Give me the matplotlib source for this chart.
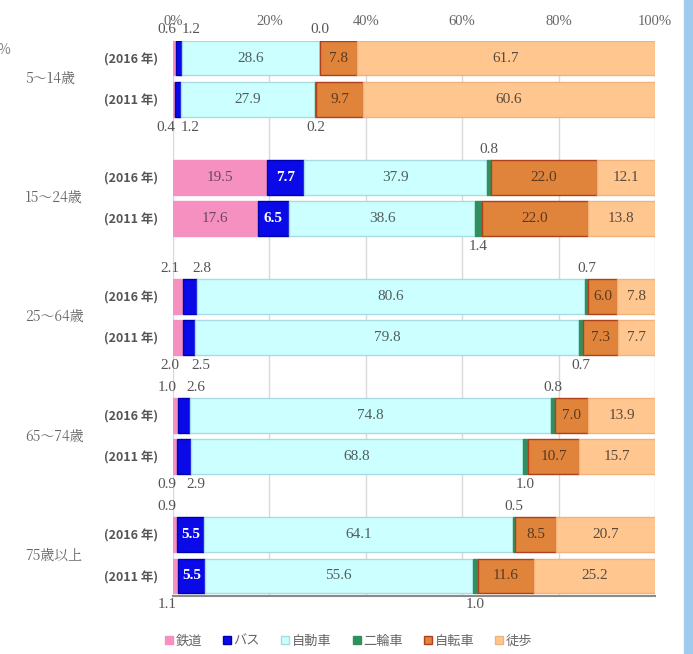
import numpy as np
import matplotlib
matplotlib.use('Agg')
import matplotlib.pyplot as plt
from matplotlib.lines import Line2D
from matplotlib.patches import Rectangle

plt.rcParams['font.family'] = ['Noto Sans CJK JP', 'DejaVu Sans']

# data (percent share of each mode)
groups = ['5〜14歳', '15〜24歳', '25〜64歳', '65〜74歳', '75歳以上']
years = ['(2016 年)', '(2011 年)']
modes = ['鉄道', 'バス', '自動車', '二輪車', '自転車', '徒歩']
# order per group: 2016, 2011
rail = [0.6, 0.4, 19.5, 17.6, 2.1, 2.0, 1.0, 0.9, 0.9, 1.1]
bus  = [1.2, 1.2, 7.7, 6.5, 2.8, 2.5, 2.6, 2.9, 5.5, 5.5]
car  = [28.6, 27.9, 37.9, 38.6, 80.6, 79.8, 74.8, 68.8, 64.1, 55.6]
moto = [0.0, 0.2, 0.8, 1.4, 0.7, 0.7, 0.8, 1.0, 0.5, 1.0]
bike = [7.8, 9.7, 22.0, 22.0, 6.0, 7.3, 7.0, 10.7, 8.5, 11.6]
walk = [61.7, 60.6, 12.1, 13.8, 7.8, 7.7, 13.9, 15.7, 20.7, 25.2]
xticks = [0, 20, 40, 60, 80, 100]

series = [rail, bus, car, moto, bike, walk]
colors = ['#F590C0', '#0A0AE8', '#CCFFFF', '#2F8F5F', '#E0843C', '#FFC690']
edges  = ['#F590C0', '#0000B0', '#A8DCE4', '#2F8F5F', '#B0401C', '#F2B27C']
txtcol = ['#6a4a5a', 'white', '#4f5f5f', '#444444', '#5a3a20', '#5a4a3a']

numfont = dict(family='Liberation Serif', size=11, color='#555555')

gap = 2.9
ypos = []
for g in range(len(groups)):
    ypos += [g * gap, g * gap + 1]
ypos = np.array(ypos)
bh = 0.85

fig = plt.figure(figsize=(6.93, 6.54), dpi=100)
ax = fig.add_axes([173 / 693, 58 / 654, 482 / 693, 555.5 / 654])

left = np.zeros(len(ypos))
for k, s in enumerate(series):
    vals = np.array(s)
    ax.barh(ypos, vals, left=left, height=bh, color=colors[k],
            edgecolor=edges[k], linewidth=1.0, zorder=3)
    for i, v in enumerate(vals):
        c = left[i] + v / 2
        is2016 = (i % 2 == 0)
        y = ypos[i]
        if v >= 5:
            w = 'bold' if k == 1 else 'normal'
            ax.text(c, y, f'{v:.1f}', ha='center', va='center', zorder=5,
                    family='Liberation Serif', size=11, color=txtcol[k], weight=w)
        else:
            # small share: label above (2016) or below (2011) the bar
            dx = {0: -8, 1: 12}.get(k, 0) * 0.72
            if is2016:
                ax.annotate(f'{v:.1f}', (c, y - bh / 2), xytext=(dx, 3),
                            textcoords='offset points', ha='center', va='bottom',
                            annotation_clip=False, **numfont)
            else:
                ax.annotate(f'{v:.1f}', (c, y + bh / 2), xytext=(dx, -3),
                            textcoords='offset points', ha='center', va='top',
                            annotation_clip=False, **numfont)
    left = left + vals

ax.set_xlim(0, 100)
ax.set_ylim(ypos[-1] + 20 / 41.1, -17.5 / 41.1)
ax.set_xticks(xticks)
ax.set_xticklabels([f'{t}%' for t in xticks], family='Liberation Serif',
                   size=10.5, color='#666666')
ax.xaxis.tick_top()
ax.tick_params(axis='x', length=0, pad=9)
ax.set_yticks(ypos)
ax.set_yticklabels(years * len(groups), size=9, weight='bold', color='#555555')
ax.tick_params(axis='y', length=0, pad=11)
ax.grid(axis='x', color='#d9d9d9', linewidth=1, zorder=0)
for sp in ['top', 'left', 'right']:
    ax.spines[sp].set_visible(False)
ax.spines['bottom'].set_color('#8a8a8a')
ax.spines['bottom'].set_linewidth(1.5)

for g, name in enumerate(groups):
    yc = g * gap + 0.5
    ax.text(-148 / 482 * 100, yc, name, ha='left', va='center', size=10,
            color='#666666', family=['Noto Serif CJK JP', 'Noto Sans CJK JP', 'DejaVu Sans'])

handles = [Line2D([], [], marker='s', linestyle='none', markersize=6,
                  markerfacecolor=colors[k], markeredgecolor=edges[k])
           for k in range(len(modes))]
fig.legend(handles, modes, loc='center', bbox_to_anchor=(348 / 693, 13 / 654),
           ncol=6, frameon=False, fontsize=9.5, handlelength=0.8,
           handletextpad=0.1, columnspacing=1.5, labelcolor='#666666')

# decoration of the screenshot edges
fig.patches.append(Rectangle((684 / 693, 0), 9 / 693, 1, transform=fig.transFigure,
                             color='#A0CBEF', zorder=0))
fig.text(-0.004, 1 - 50 / 654, '%', size=10, color='#888888', va='center')

fig.savefig('out.png', dpi=100)
